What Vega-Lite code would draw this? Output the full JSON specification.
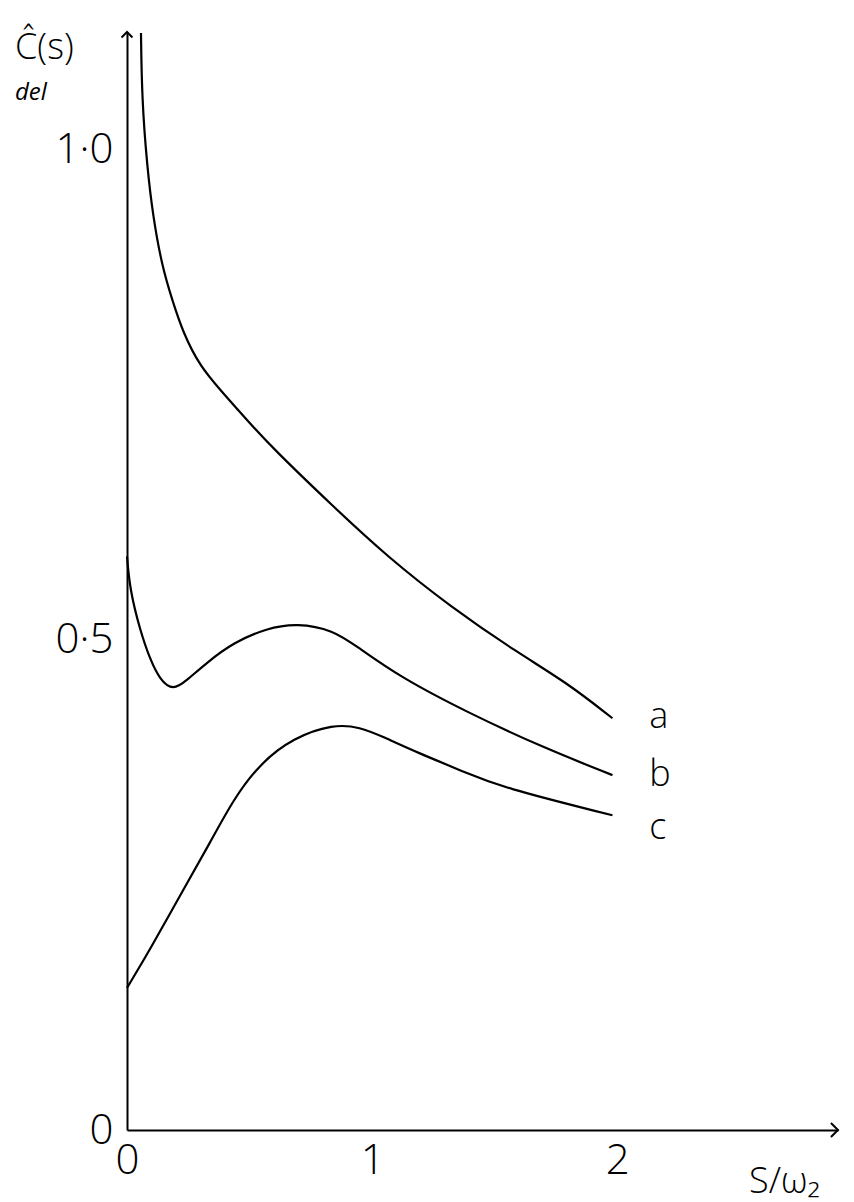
{
  "$schema": "https://vega.github.io/schema/vega-lite/v6.json",
  "autosize": {"type": "none"},
  "padding": {"left": 127, "top": 32, "right": 16, "bottom": 72},
  "width": 711,
  "height": 1098,
  "background": "white",
  "config": {"view": {"stroke": null}, "font": "Open Sans"},
  "title": {
    "text": "Ĉ(s)",
    "subtitle": "del",
    "anchor": "start",
    "frame": "group",
    "dx": -112,
    "dy": 82,
    "fontSize": 36,
    "fontWeight": 300,
    "font": "Open Sans",
    "color": "black",
    "subtitleFontSize": 24,
    "subtitleFontStyle": "italic",
    "subtitleFont": "Open Sans",
    "subtitleColor": "black",
    "subtitlePadding": 14
  },
  "datasets": {
    "curves": [
      {"series": "a", "s": 0.057, "c": 1.119},
      {"series": "a", "s": 0.061, "c": 1.051},
      {"series": "a", "s": 0.082, "c": 0.983},
      {"series": "a", "s": 0.106, "c": 0.932},
      {"series": "a", "s": 0.143, "c": 0.881},
      {"series": "a", "s": 0.184, "c": 0.847},
      {"series": "a", "s": 0.229, "c": 0.813},
      {"series": "a", "s": 0.298, "c": 0.779},
      {"series": "a", "s": 0.380, "c": 0.755},
      {"series": "a", "s": 0.490, "c": 0.724},
      {"series": "a", "s": 0.592, "c": 0.696},
      {"series": "a", "s": 0.841, "c": 0.636},
      {"series": "a", "s": 1.061, "c": 0.585},
      {"series": "a", "s": 1.318, "c": 0.534},
      {"series": "a", "s": 1.592, "c": 0.487},
      {"series": "a", "s": 1.796, "c": 0.456},
      {"series": "a", "s": 1.980, "c": 0.420},
      {"series": "b", "s": 0.0, "c": 0.585},
      {"series": "b", "s": 0.012, "c": 0.551},
      {"series": "b", "s": 0.053, "c": 0.510},
      {"series": "b", "s": 0.094, "c": 0.480},
      {"series": "b", "s": 0.135, "c": 0.459},
      {"series": "b", "s": 0.188, "c": 0.448},
      {"series": "b", "s": 0.245, "c": 0.459},
      {"series": "b", "s": 0.327, "c": 0.477},
      {"series": "b", "s": 0.433, "c": 0.497},
      {"series": "b", "s": 0.571, "c": 0.512},
      {"series": "b", "s": 0.694, "c": 0.517},
      {"series": "b", "s": 0.841, "c": 0.510},
      {"series": "b", "s": 0.939, "c": 0.493},
      {"series": "b", "s": 1.114, "c": 0.462},
      {"series": "b", "s": 1.388, "c": 0.426},
      {"series": "b", "s": 1.698, "c": 0.390},
      {"series": "b", "s": 1.980, "c": 0.362},
      {"series": "c", "s": 0.0, "c": 0.145},
      {"series": "c", "s": 0.094, "c": 0.184},
      {"series": "c", "s": 0.229, "c": 0.245},
      {"series": "c", "s": 0.339, "c": 0.293},
      {"series": "c", "s": 0.433, "c": 0.337},
      {"series": "c", "s": 0.543, "c": 0.374},
      {"series": "c", "s": 0.678, "c": 0.400},
      {"series": "c", "s": 0.841, "c": 0.414},
      {"series": "c", "s": 0.951, "c": 0.411},
      {"series": "c", "s": 1.045, "c": 0.401},
      {"series": "c", "s": 1.184, "c": 0.385},
      {"series": "c", "s": 1.388, "c": 0.364},
      {"series": "c", "s": 1.522, "c": 0.350},
      {"series": "c", "s": 1.980, "c": 0.321}
    ],
    "labels": [
      {"series": "a", "s": 2.13, "c": 0.421},
      {"series": "b", "s": 2.13, "c": 0.362},
      {"series": "c", "s": 2.13, "c": 0.308}
    ],
    "arrows": [
      {"dir": "up", "s": 0.0, "c": 1.12},
      {"dir": "right", "s": 2.9, "c": 0.0}
    ]
  },
  "layer": [
    {
      "data": {"name": "curves"},
      "mark": {"type": "line", "color": "black", "strokeWidth": 2.2, "interpolate": "basis"},
      "encoding": {
        "x": {
          "field": "s", "type": "quantitative",
          "scale": {"domain": [0, 2.9], "nice": false, "zero": false},
          "axis": {
            "values": [0, 1, 2],
            "format": "d",
            "grid": false, "ticks": false,
            "domainColor": "black", "domainWidth": 2,
            "labelFontSize": 42, "labelColor": "black", "labelPadding": 10,
            "labelFont": "Open Sans", "labelFontWeight": 300,
            "labelFlush": false,
            "title": "S/ω₂",
            "titleFontSize": 36, "titleFontWeight": 300, "titleColor": "black",
            "titleFont": "Open Sans",
            "titleAnchor": "end", "titleAlign": "right", "titleBaseline": "bottom",
            "titleX": 692, "titleY": 70
          }
        },
        "y": {
          "field": "c", "type": "quantitative",
          "scale": {"domain": [0, 1.12], "nice": false, "zero": false},
          "axis": {
            "values": [0, 0.5, 1],
            "labelExpr": "datum.value == 0 ? '0' : (datum.value == 0.5 ? '0·5' : '1·0')",
            "grid": false, "ticks": false,
            "domainColor": "black", "domainWidth": 2,
            "labelFontSize": 42, "labelColor": "black", "labelPadding": 14,
            "labelFont": "Open Sans", "labelFontWeight": 300,
            "labelFlush": false,
            "title": null
          }
        },
        "detail": {"field": "series", "type": "nominal"}
      }
    },
    {
      "data": {"name": "labels"},
      "mark": {"type": "text", "align": "left", "baseline": "middle", "fontSize": 36, "font": "Open Sans", "fontWeight": 300, "color": "black"},
      "encoding": {
        "x": {"field": "s", "type": "quantitative"},
        "y": {"field": "c", "type": "quantitative"},
        "text": {"field": "series", "type": "nominal"}
      }
    },
    {
      "data": {"name": "arrows"},
      "transform": [{"filter": "datum.dir == 'up'"}],
      "mark": {"type": "point", "shape": "M-1,1L0,0L1,1", "filled": false, "stroke": "black", "strokeWidth": 2, "size": 120, "opacity": 1},
      "encoding": {
        "x": {"field": "s", "type": "quantitative"},
        "y": {"field": "c", "type": "quantitative"}
      }
    },
    {
      "data": {"name": "arrows"},
      "transform": [{"filter": "datum.dir == 'right'"}],
      "mark": {"type": "point", "shape": "M-1,-1L0,0L-1,1", "filled": false, "stroke": "black", "strokeWidth": 2, "size": 200, "opacity": 1},
      "encoding": {
        "x": {"field": "s", "type": "quantitative"},
        "y": {"field": "c", "type": "quantitative"}
      }
    }
  ]
}
